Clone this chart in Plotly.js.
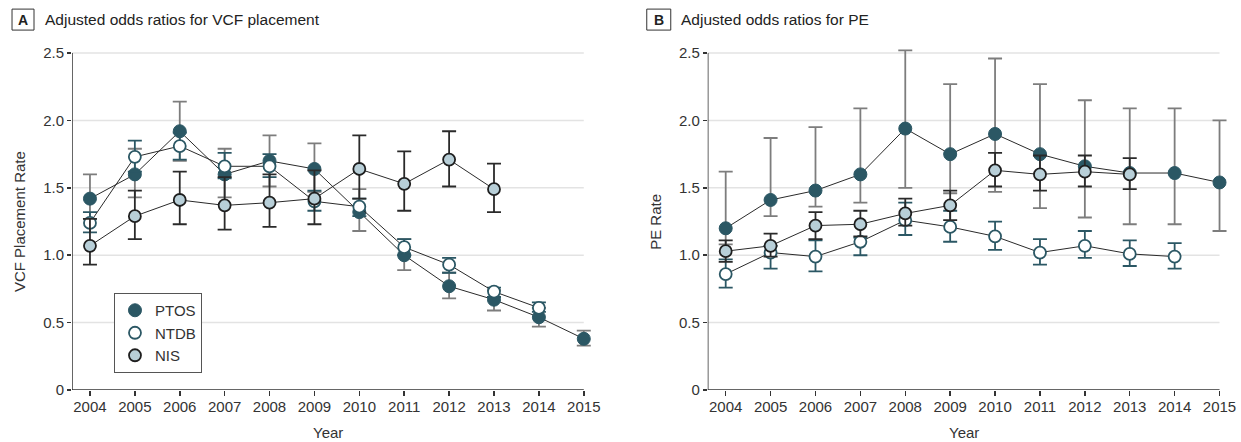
<!DOCTYPE html>
<html>
<head>
<meta charset="utf-8">
<script src="https://cdn.plot.ly/plotly-3.0.1.min.js"></script>
<style>html,body{margin:0;padding:0;background:#fff;}#chart{width:1241px;height:442px;}</style>
</head>
<body>
<div id="chart"></div>
<script>
// ---- Data ----
const years = [2004, 2005, 2006, 2007, 2008, 2009, 2010, 2011, 2012, 2013, 2014, 2015];
const yearsNIS = [2004, 2005, 2006, 2007, 2008, 2009, 2010, 2011, 2012, 2013];
const yearsNTDB = [2004, 2005, 2006, 2007, 2008, 2009, 2010, 2011, 2012, 2013, 2014];

// Panel A: VCF placement
const vcfPTOS      = [1.42, 1.60, 1.92, 1.60, 1.70, 1.64, 1.32, 1.00, 0.77, 0.67, 0.54, 0.38];
const vcfPTOSLow   = [1.27, 1.43, 1.70, 1.43, 1.51, 1.47, 1.18, 0.89, 0.68, 0.59, 0.47, 0.33];
const vcfPTOSHigh  = [1.60, 1.79, 2.14, 1.79, 1.89, 1.83, 1.49, 1.12, 0.87, 0.74, 0.61, 0.44];
const vcfNTDB      = [1.24, 1.73, 1.81, 1.66, 1.66, 1.40, 1.36, 1.06, 0.93, 0.73, 0.61];
const vcfNTDBLow   = [1.17, 1.62, 1.71, 1.57, 1.58, 1.33, 1.29, 1.00, 0.87, 0.69, 0.58];
const vcfNTDBHigh  = [1.32, 1.85, 1.91, 1.76, 1.75, 1.48, 1.42, 1.12, 0.98, 0.76, 0.65];
const vcfNIS       = [1.07, 1.29, 1.41, 1.37, 1.39, 1.42, 1.64, 1.53, 1.71, 1.49];
const vcfNISLow    = [0.93, 1.12, 1.23, 1.19, 1.21, 1.23, 1.42, 1.33, 1.51, 1.32];
const vcfNISHigh   = [1.27, 1.48, 1.62, 1.58, 1.60, 1.63, 1.89, 1.77, 1.92, 1.68];

// Panel B: PE
const pePTOS      = [1.20, 1.41, 1.48, 1.60, 1.94, 1.75, 1.90, 1.75, 1.66, 1.61, 1.61, 1.54];
const pePTOSLow   = [1.08, 1.29, 1.36, 1.39, 1.50, 1.46, 1.47, 1.35, 1.28, 1.23, 1.23, 1.18];
const pePTOSHigh  = [1.62, 1.87, 1.95, 2.09, 2.52, 2.27, 2.46, 2.27, 2.15, 2.09, 2.09, 2.00];
const peNTDB      = [0.86, 1.02, 0.99, 1.10, 1.26, 1.21, 1.14, 1.02, 1.07, 1.01, 0.99];
const peNTDBLow   = [0.76, 0.90, 0.88, 1.00, 1.15, 1.10, 1.04, 0.93, 0.98, 0.92, 0.90];
const peNTDBHigh  = [0.97, 1.07, 1.11, 1.13, 1.39, 1.33, 1.25, 1.12, 1.18, 1.11, 1.09];
const peNIS       = [1.03, 1.07, 1.22, 1.23, 1.31, 1.37, 1.63, 1.60, 1.62, 1.60];
const peNISLow    = [0.95, 0.99, 1.12, 1.14, 1.22, 1.26, 1.51, 1.48, 1.51, 1.49];
const peNISHigh   = [1.11, 1.16, 1.32, 1.33, 1.42, 1.48, 1.76, 1.74, 1.74, 1.72];

const seriesNames = ['PTOS', 'NTDB', 'NIS'];
const yTickVals = [0, 0.5, 1.0, 1.5, 2.0, 2.5];
const yTickText = ['0', '0.5', '1.0', '1.5', '2.0', '2.5'];

// ---- Styles ----
const TEAL = '#2b5764';
const NISFILL = '#b8cfd8';
const LINE = '#2a2a2a';
const FONT = 'Liberation Sans, Arial, sans-serif';
const X0 = 2003.6, X1 = 2015, XR = 2015.3, Y1 = 2.5, YR = 2.56;

function err(v, lo, hi, color) {
  return {
    type: 'data', symmetric: false,
    array: v.map((d, i) => hi[i] - d),
    arrayminus: v.map((d, i) => d - lo[i]),
    color: color, thickness: 1.8, width: 7
  };
}
const styles = {
  PTOS: {marker: {size: 13, color: TEAL, line: {color: TEAL, width: 1}}, ecol: '#7d7d7d'},
  NTDB: {marker: {size: 12, color: '#ffffff', line: {color: TEAL, width: 1.8}}, ecol: TEAL},
  NIS:  {marker: {size: 12, color: NISFILL, line: {color: '#1e1e1e', width: 1.8}}, ecol: '#2a2a2a'}
};
function tr(name, x, y, lo, hi, xa, ya) {
  return {
    type: 'scatter', mode: 'lines+markers', name: name, x: x, y: y,
    xaxis: xa, yaxis: ya, showlegend: false,
    line: {color: LINE, width: 1},
    marker: styles[name].marker,
    error_y: err(y, lo, hi, styles[name].ecol),
    cliponaxis: false, hoverinfo: 'x+y'
  };
}

const data = [
  tr('PTOS', years, vcfPTOS, vcfPTOSLow, vcfPTOSHigh, 'x', 'y'),
  tr('NTDB', yearsNTDB, vcfNTDB, vcfNTDBLow, vcfNTDBHigh, 'x', 'y'),
  tr('NIS', yearsNIS, vcfNIS, vcfNISLow, vcfNISHigh, 'x', 'y'),
  tr('PTOS', years, pePTOS, pePTOSLow, pePTOSHigh, 'x2', 'y2'),
  tr('NTDB', yearsNTDB, peNTDB, peNTDBLow, peNTDBHigh, 'x2', 'y2'),
  tr('NIS', yearsNIS, peNIS, peNISLow, peNISHigh, 'x2', 'y2')
];
// legend-only entries (markers only)
seriesNames.forEach(n => {
  data.push({type: 'scatter', mode: 'markers', name: n, x: [null], y: [null],
    xaxis: 'x', yaxis: 'y', marker: styles[n].marker, showlegend: true, hoverinfo: 'skip'});
});

function xax(domain, anchor) {
  return {
    domain: domain, anchor: anchor, range: [X0, XR],
    tickmode: 'array', tickvals: years, ticktext: years.map(String),
    showgrid: false, zeroline: false, showline: false,
    ticks: 'outside', ticklen: 5, tickwidth: 1.5, tickcolor: '#333',
    tickfont: {family: FONT, size: 15, color: '#333'},
    ticklabelstandoff: -2,
    fixedrange: true
  };
}
function yax(anchor) {
  return {
    anchor: anchor, range: [0, YR],
    tickmode: 'array', tickvals: yTickVals, ticktext: yTickText,
    showgrid: false, zeroline: false, showline: false,
    ticks: 'outside', ticklen: 4, tickwidth: 1.5, tickcolor: '#333',
    tickfont: {family: FONT, size: 15, color: '#333'},
    fixedrange: true
  };
}

// pixel geometry: 2.5 at y=53, 0 at y=390; 2003.6 at x=72 (A) / 708 (B), 2015 at 584 (A) / 1220 (B)
const plotBottom = 390, pxPerUnitY = 337 / Y1;
const plotH = YR * pxPerUnitY;
const T = plotBottom - plotH;
const pxPerYear = 512 / (X1 - X0);
const L = 72;
const rightEdge = 708 + (XR - X0) * pxPerYear;
const W = rightEdge - L;
const px = v => (v - L) / W;
const py = v => (plotBottom - v) / plotH;

const shapes = [];
[['x', 'y'], ['x2', 'y2']].forEach(([xa, ya]) => {
  yTickVals.slice(1).forEach(v => {
    shapes.push({type: 'line', xref: xa, yref: ya, x0: X0, x1: X1, y0: v, y1: v,
      line: {color: '#e3e3e3', width: 1.5}, layer: 'below'});
  });
  shapes.push({type: 'line', xref: xa, yref: ya, x0: X0, x1: X1, y0: 0, y1: 0,
    line: {color: '#333', width: 1.5}, layer: 'below'});
  shapes.push({type: 'line', xref: xa, yref: ya, x0: X0, x1: X0, y0: 0, y1: Y1,
    line: {color: '#333', width: 1.5}, layer: 'below'});
});
shapes.push({type: 'rect', xref: 'paper', yref: 'paper', x0: px(12), x1: px(34), y0: py(30), y1: py(9),
  line: {color: '#333', width: 1}});
shapes.push({type: 'rect', xref: 'paper', yref: 'paper', x0: px(647), x1: px(671), y0: py(30), y1: py(9),
  line: {color: '#333', width: 1}});

function ann(x, y, text, size, opts) {
  return Object.assign({xref: 'paper', yref: 'paper', x: px(x), y: py(y), text: text, showarrow: false,
    xanchor: 'center', yanchor: 'middle', font: {family: FONT, size: size, color: '#222'}}, opts || {});
}

const layout = {
  width: 1241, height: 442,
  margin: {l: L, r: 1241 - rightEdge, t: T, b: 442 - plotBottom},
  paper_bgcolor: '#fff', plot_bgcolor: 'rgba(0,0,0,0)',
  font: {family: FONT, color: '#333'},
  xaxis: xax([0, (72 + (XR - X0) * pxPerYear - L) / W], 'y'),
  yaxis: yax('x'),
  xaxis2: xax([(708 - L) / W, 1], 'y2'),
  yaxis2: yax('x2'),
  showlegend: true,
  legend: {
    x: px(114), y: py(293), xanchor: 'left', yanchor: 'top',
    bordercolor: '#555', borderwidth: 1, bgcolor: '#fff',
    font: {family: FONT, size: 15, color: '#333'},
    tracegroupgap: 0, itemwidth: 30
  },
  shapes: shapes,
  annotations: [
    ann(23, 19.5, '<b>A</b>', 14),
    ann(43, 19, 'Adjusted odds ratios for VCF placement', 15.5, {xanchor: 'left'}),
    ann(659, 19.5, '<b>B</b>', 14),
    ann(679, 19, 'Adjusted odds ratios for PE', 15.5, {xanchor: 'left'}),
    ann(328, 433, 'Year', 15, {font: {family: FONT, size: 15, color: '#333'}}),
    ann(964, 433, 'Year', 15, {font: {family: FONT, size: 15, color: '#333'}}),
    ann(19, 222, 'VCF Placement Rate', 15, {textangle: -90, font: {family: FONT, size: 15, color: '#333'}}),
    ann(655, 222, 'PE Rate', 15, {textangle: -90, font: {family: FONT, size: 15, color: '#333'}})
  ]
};

Plotly.newPlot('chart', data, layout, {displayModeBar: false, staticPlot: true});
</script>
</body>
</html>
